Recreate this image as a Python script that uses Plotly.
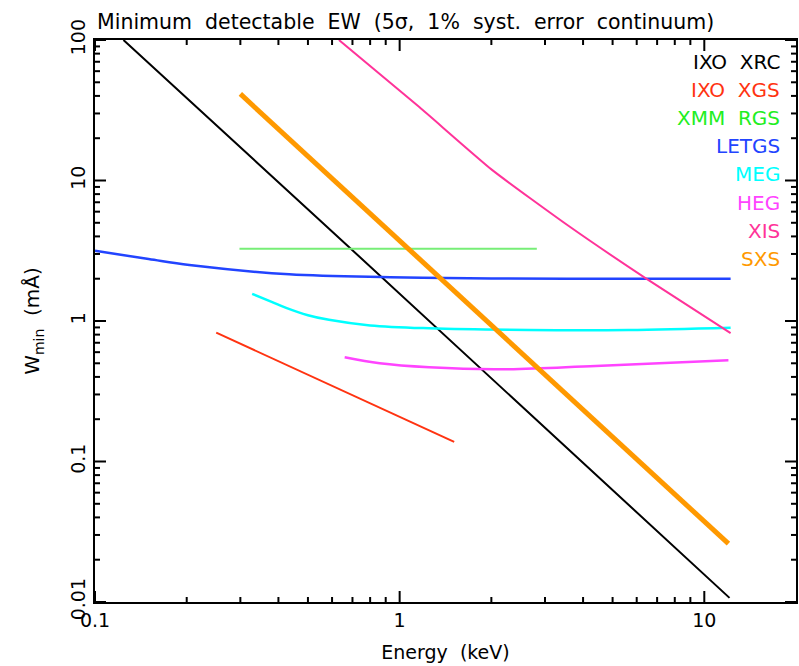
import plotly.graph_objects as go

# ---- data ----
xrc_E = [0.124, 0.548, 12.1]
xrc_W = [100.0, 5.2, 0.0107]

xgs_E = [0.25, 1.51]
xgs_W = [0.826, 0.138]

rgs_E = [0.298, 2.82]
rgs_W = [3.27, 3.27]

letgs_E = [0.1, 0.15, 0.204, 0.434, 0.93, 2.0, 5.0, 12.2]
letgs_W = [3.16, 2.76, 2.5, 2.15, 2.05, 2.01, 2.0, 2.0]

meg_E = [0.328, 0.38, 0.424, 0.5, 0.586, 0.8, 1.25, 2.66, 5.64, 12.2]
meg_W = [1.56, 1.37, 1.24, 1.10, 1.02, 0.93, 0.887, 0.863, 0.863, 0.896]

heg_E = [0.66, 0.86, 1.25, 2.07, 4.4, 12.0]
heg_W = [0.552, 0.50, 0.468, 0.453, 0.479, 0.525]

xis_E = [0.632, 1.16, 2.01, 3.59, 6.41, 12.2]
xis_W = [100.0, 33.3, 11.9, 4.74, 2.02, 0.82]

sxs_E = [0.3, 1.37, 12.0]
sxs_W = [41.3, 1.98, 0.026]

names = ["IXO  XRC", "IXO  XGS", "XMM  RGS", "LETGS", "MEG", "HEG", "XIS", "SXS"]

x_ticks = [0.1, 1, 10]
x_ticktext = ["0.1", "1", "10"]
y_ticks = [0.01, 0.1, 1, 10, 100]
y_ticktext = ["0.01", "0.1", "1", "10", "100"]

x_minor = [m * 10.0 ** d for d in (-1, 0, 1) for m in range(2, 10) if m * 10.0 ** d < 20]
y_minor = [m * 10.0 ** d for d in (-2, -1, 0, 1) for m in range(2, 10)]

# ---- styles ----
line_colors = ["#000000", "#ff3311", "#77ee77", "#2244ff", "#00ffff", "#ff44ff", "#ff3399", "#ff9900"]
text_colors = ["#000000", "#ff3311", "#22ee22", "#2244ff", "#00ffff", "#ff44ff", "#ff3399", "#ff9900"]
widths = [2, 2, 2, 2.5, 2.5, 2.5, 2, 5]
smooth = [0, 0, 0, 1.0, 1.0, 1.0, 0.5, 0]

series = [(xrc_E, xrc_W), (xgs_E, xgs_W), (rgs_E, rgs_W), (letgs_E, letgs_W),
          (meg_E, meg_W), (heg_E, heg_W), (xis_E, xis_W), (sxs_E, sxs_W)]

FONT = "DejaVu Sans"

fig = go.Figure()
for (E, W), n, c, w, s in zip(series, names, line_colors, widths, smooth):
    ln = dict(color=c, width=w)
    if s > 0:
        ln.update(shape="spline", smoothing=s)
    fig.add_trace(go.Scatter(x=E, y=W, mode="lines", name=n, line=ln,
                             showlegend=False))

# legend labels as text
for i, (n, c) in enumerate(zip(names, text_colors)):
    fig.add_annotation(xref="paper", yref="paper", x=0.975, y=1,
                       xanchor="right", yanchor="middle", xshift=4,
                       yshift=-22 - 28.1 * i,
                       text=n, showarrow=False,
                       font=dict(family=FONT, size=20, color=c))

fig.add_annotation(xref="paper", yref="paper", x=0.0, y=1, xanchor="left",
                   yanchor="bottom", yshift=4, xshift=0,
                   text="Minimum  detectable  EW  (5σ,  1%  syst.  error  continuum)",
                   showarrow=False, font=dict(family=FONT, size=20.5, color="black"))

# inward ticks on all four sides (major long, minor short); shapes on log
# axes take data values in plotly 6
tick_line = dict(color="#000000", width=2)
for vals, L in ((x_ticks, 11), (x_minor, 5)):
    for v in vals:
        for anc, sgn in ((0, 1), (1, -1)):
            fig.add_shape(type="line", xref="x", yref="paper", x0=v, x1=v,
                          ysizemode="pixel", yanchor=anc, y0=0, y1=sgn * L,
                          line=tick_line, opacity=1, layer="above")
for vals, L in ((y_ticks, 11), (y_minor, 5)):
    for v in vals:
        for anc, sgn in ((0, 1), (1, -1)):
            fig.add_shape(type="line", yref="y", xref="paper", y0=v, y1=v,
                          xsizemode="pixel", xanchor=anc, x0=0, x1=sgn * L,
                          line=tick_line, opacity=1, layer="above")


def axis(**kw):
    d = dict(type="log", showgrid=False, zeroline=False,
             showline=True, linecolor="black", linewidth=2,
             mirror=True, ticks="", tickmode="array",
             tickfont=dict(family=FONT, size=19, color="black"))
    d.update(kw)
    return d


fig.update_layout(
    width=799, height=666,
    margin=dict(l=95, r=1, t=40, b=64),
    paper_bgcolor="white", plot_bgcolor="white",
    template="simple_white",
    xaxis=axis(range=[-1, 1.301], tickvals=x_ticks, ticktext=x_ticktext,
               title=dict(text="Energy  (keV)",
                          font=dict(family=FONT, size=19, color="black"),
                          standoff=16)),
    yaxis=axis(range=[-2, 2], tickvals=y_ticks, ticktext=y_ticktext,
               tickangle=-90,
               title=dict(text="W<sub>min</sub>  (mÅ)",
                          font=dict(family=FONT, size=20, color="black"),
                          standoff=22)),
)

fig.write_html("out.html")
